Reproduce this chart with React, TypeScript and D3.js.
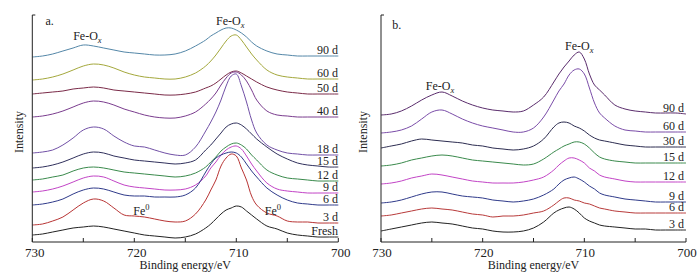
import React from 'react';
import * as d3 from 'd3';

// Binding energy grid (eV)
const energy = [730, 729, 728, 727, 726, 725, 724, 723, 722, 721, 720, 719, 718, 717, 716, 715, 714, 713, 712.5, 712, 711.5, 711, 710.5, 710, 709.5, 709, 708.5, 708, 707, 706, 705, 704, 703, 702, 701, 700];
const tickLabels = [730, 720, 710, 700];
const tickMarks = [730, 725, 720, 715, 710, 705, 700];

// Panel a (offset intensity, arbitrary units)
const a90d = [185, 186, 188, 191, 194, 197, 196, 194, 192, 190, 189, 188, 187, 187, 188, 191, 196, 202, 206, 209, 212, 214, 214, 212, 209, 205, 200, 196, 191, 188, 187, 186, 186, 186, 186, 186];
const a60d = [162, 163, 165, 168, 172, 176, 178, 177, 174, 170, 167, 165, 164, 163, 163, 165, 169, 176, 181, 187, 194, 201, 206, 207, 202, 195, 188, 182, 172, 167, 165, 164, 163, 163, 163, 163];
const a50d = [148, 149, 150, 151, 153, 154, 155, 154, 152, 151, 150, 149, 148, 147, 147, 148, 150, 154, 156, 159, 163, 167, 170, 171, 169, 166, 163, 160, 155, 152, 150, 149, 148, 148, 148, 148];
const a40d = [125, 126, 128, 131, 135, 139, 141, 140, 137, 133, 130, 127, 125, 124, 124, 126, 130, 138, 143, 149, 157, 164, 169, 170, 167, 161, 152, 142, 131, 127, 126, 125, 125, 125, 125, 125];
const a18d = [89, 90, 92, 97, 104, 112, 115, 113, 106, 100, 96, 95, 92, 89, 87, 87, 95, 111, 120, 130, 142, 156, 166, 168, 156, 140, 122, 109, 97, 92, 89, 88, 87, 87, 87, 87];
const a15d = [74, 75, 77, 80, 84, 88, 90, 89, 86, 84, 82, 81, 80, 79, 78, 79, 82, 92, 97, 103, 109, 115, 118, 119, 117, 113, 108, 103, 95, 88, 83, 79, 77, 76, 75, 75];
const a12d = [62, 63, 65, 67, 71, 74, 75, 74, 72, 70, 69, 68, 67, 66, 65, 66, 69, 75, 80, 85, 91, 95, 98, 99, 97, 93, 87, 82, 72, 67, 64, 63, 62, 61, 61, 61];
const a9d = [50, 51, 53, 56, 60, 64, 66, 65, 61, 57, 55, 54, 53, 52, 52, 53, 57, 66, 74, 80, 87, 92, 95, 96, 93, 86, 78, 71, 59, 53, 51, 50, 49, 49, 49, 49];
const a6d = [37, 38, 40, 43, 48, 52, 54, 53, 50, 47, 46, 46, 45, 45, 45, 47, 54, 70, 78, 84, 87, 89, 90, 89, 85, 78, 71, 65, 54, 47, 42, 39, 38, 37, 37, 37];
const a3d = [17, 18, 21, 25, 32, 39, 43, 41, 34, 27, 26, 25, 23, 21, 20, 21, 28, 42, 52, 62, 76, 84, 88, 86, 74, 62, 46, 37, 29, 26, 21, 20, 20, 19, 19, 19];
const aFresh = [7, 8, 10, 12, 14, 15, 16, 15, 13, 11, 9, 7, 6, 5, 4, 5, 8, 14, 18, 23, 28, 32, 34, 36, 35, 31, 27, 23, 16, 13, 9, 7, 6, 5, 5, 5];
const panelALabels = ['90 d', '60 d', '50 d', '40 d', '18 d', '15 d', '12 d', '9 d', '6 d', '3 d', 'Fresh'];
const panelAValues = [a90d, a60d, a50d, a40d, a18d, a15d, a12d, a9d, a6d, a3d, aFresh];
const panelAColors = ['#5487a8', '#a4a83c', '#7a2a48', '#7a3c8e', '#7150a6', '#30305c', '#3a8a4c', '#c244c6', '#2f3a8a', '#b83434', '#222222'];

// Panel b
const b90d = [127, 128, 131, 136, 142, 147, 150, 146, 141, 137, 134, 132, 131, 130, 131, 137, 145, 160, 168, 175, 181, 187, 190, 183, 168, 157, 152, 147, 137, 133, 131, 130, 129, 129, 129, 128];
const b60d = [109, 110, 112, 116, 123, 130, 132, 128, 123, 119, 116, 114, 112, 110, 110, 114, 125, 142, 151, 158, 167, 172, 173, 168, 154, 139, 129, 124, 116, 112, 111, 110, 110, 110, 110, 110];
const b30d = [94, 96, 98, 101, 103, 102, 101, 100, 99, 97, 96, 94, 93, 92, 93, 96, 103, 115, 119, 120, 119, 116, 114, 111, 107, 104, 102, 101, 99, 97, 96, 95, 95, 95, 95, 95];
const b15d = [76, 77, 79, 82, 84, 86, 87, 86, 84, 82, 81, 80, 79, 78, 77, 78, 83, 90, 93, 96, 98, 100, 100, 98, 94, 89, 85, 83, 81, 80, 79, 79, 79, 79, 79, 79];
const b12d = [58, 59, 61, 64, 66, 68, 67, 65, 63, 61, 60, 59, 59, 59, 60, 62, 65, 72, 77, 81, 84, 84, 82, 79, 74, 71, 67, 65, 63, 61, 60, 60, 60, 60, 60, 60];
const b9d = [39, 40, 42, 45, 48, 50, 50, 48, 46, 45, 44, 42, 41, 40, 41, 43, 47, 53, 58, 62, 64, 65, 63, 60, 56, 53, 49, 47, 45, 43, 42, 41, 40, 40, 40, 40];
const b6d = [26, 27, 29, 31, 33, 34, 33, 32, 30, 28, 27, 25, 26, 26, 27, 29, 31, 37, 41, 44, 44, 42, 41, 39, 38, 36, 34, 33, 31, 30, 29, 29, 29, 29, 29, 29];
const b3d = [11, 13, 15, 17, 19, 20, 19, 18, 16, 14, 13, 11, 10, 10, 11, 14, 20, 29, 32, 34, 35, 33, 29, 24, 21, 19, 17, 16, 15, 14, 13, 13, 12, 12, 12, 12];
const panelBLabels = ['90 d', '60 d', '30 d', '15 d', '12 d', '9 d', '6 d', '3 d'];
const panelBValues = [b90d, b60d, b30d, b15d, b12d, b9d, b6d, b3d];
const panelBColors = ['#5a2c6c', '#7a4ca8', '#2c2c50', '#3a8a4c', '#c244c6', '#2f3a8a', '#b83a3a', '#222222'];

const FONT = 'Liberation Serif, Times New Roman, DejaVu Serif, serif';
const TOP = 15;
const BOTTOM = 242;

type Ann = { kind: 'ox' | 'fe0' | 'plain'; text: string; e: number; v: number; anchor: 'start' | 'middle' };

function Panel(props: {
  left: number; right: number; values: number[][]; labels: string[]; colors: string[];
  anns: Ann[]; yTitleX: number; labelDx: number; labelRight: number;
}) {
  const { left, right, values, labels, colors, anns, yTitleX, labelDx, labelRight } = props;
  const x = d3.scaleLinear().domain([730, 700]).range([left, right]);
  const y = d3.scaleLinear().domain([0, 227]).range([BOTTOM, TOP]);
  const line = d3.line<number>().x((_, i) => x(energy[i])).y((d) => y(d)).curve(d3.curveCatmullRom);
  return (
    <g fontFamily={FONT} fill="#222">
      {values.map((vals, i) => (
        <path key={'s' + i} d={line(vals) || ''} fill="none" stroke={colors[i]} strokeWidth={1} />
      ))}
      {values.map((vals, i) => (
        <text key={'l' + i} fontFamily={FONT} x={labelRight} y={y(vals[vals.length - 1]) - 2.5} fontSize={12} textAnchor="end">{labels[i]}</text>
      ))}
      <path d={`M${left + 3},${TOP}H${left}V${BOTTOM}H${right}`} fill="none" stroke="#222" strokeWidth={1} />
      {tickMarks.map((t) => (
        <line key={'t' + t} x1={x(t)} x2={x(t)} y1={BOTTOM} y2={BOTTOM - 4} stroke="#222" strokeWidth={1} />
      ))}
      {tickLabels.map((t) => (
        <text key={'tl' + t} fontFamily={FONT} x={x(t) + labelDx} y={257} fontSize={13} textAnchor="middle">{t}</text>
      ))}
      <text fontFamily={FONT} x={(left + right) / 2} y={269} fontSize={12} textAnchor="middle">Binding energy/eV</text>
      <text fontFamily={FONT} transform={`translate(${yTitleX},132) rotate(-90)`} fontSize={12} textAnchor="middle">Intensity</text>
      {anns.map((a, i) => {
        if (a.kind === 'ox') {
          return (
            <text key={'a' + i} fontFamily={FONT} x={x(a.e)} y={y(a.v)} fontSize={12} textAnchor={a.anchor}>
              Fe-O<tspan fontStyle="italic" fontSize={8.5} dy={2.5}>x</tspan>
            </text>
          );
        }
        if (a.kind === 'fe0') {
          return (
            <text key={'a' + i} fontFamily={FONT} x={x(a.e)} y={y(a.v)} fontSize={12} textAnchor={a.anchor}>
              Fe<tspan fontSize={8.5} dy={-5}>0</tspan>
            </text>
          );
        }
        return (
          <text key={'a' + i} fontFamily={FONT} x={x(a.e)} y={y(a.v)} fontSize={12} textAnchor={a.anchor}>{a.text}</text>
        );
      })}
    </g>
  );
}

const annsA: Ann[] = [
  { kind: 'plain', text: 'a.', e: 728.7, v: 217, anchor: 'start' },
  { kind: 'ox', text: '', e: 724.6, v: 202, anchor: 'middle' },
  { kind: 'ox', text: '', e: 710.6, v: 217, anchor: 'middle' },
  { kind: 'fe0', text: '', e: 720.1, v: 27, anchor: 'start' },
  { kind: 'fe0', text: '', e: 707.2, v: 27, anchor: 'start' },
];
const annsB: Ann[] = [
  { kind: 'plain', text: 'b.', e: 728.9, v: 213, anchor: 'start' },
  { kind: 'ox', text: '', e: 724.2, v: 152, anchor: 'middle' },
  { kind: 'ox', text: '', e: 710.5, v: 192, anchor: 'middle' },
];

export default function App() {
  return (
    <svg width={700} height={279} style={{ position: 'absolute', left: 0, top: 0, background: '#fff' }}>
      <rect x={0} y={0} width={700} height={279} fill="#fff" />
      <Panel left={32.3} right={338.3} values={panelAValues} labels={panelALabels} colors={panelAColors}
        anns={annsA} yTitleX={23} labelDx={2.5} labelRight={338} />
      <Panel left={381} right={686} values={panelBValues} labels={panelBLabels} colors={panelBColors}
        anns={annsB} yTitleX={367} labelDx={1} labelRight={684} />
    </svg>
  );
}
